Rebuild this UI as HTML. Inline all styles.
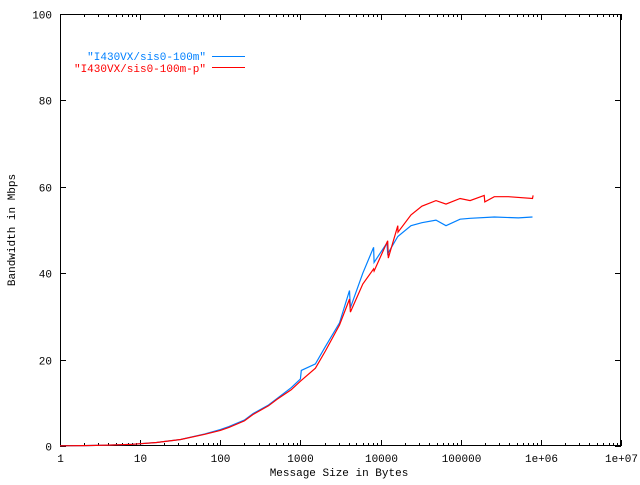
<!DOCTYPE html>
<html><head><meta charset="utf-8"><style>
body{margin:0;background:#fff}
svg text{font-family:"Liberation Mono",monospace;font-size:11px}
</style></head><body>
<svg id="c" width="640" height="480" xmlns="http://www.w3.org/2000/svg">
<rect width="640" height="480" fill="#fff"/>
<g id="axes"></g>
<g id="series"></g>
<text x="339" y="476" text-anchor="middle">Message Size in Bytes</text>
<text transform="translate(15,230) rotate(-90)" text-anchor="middle">Bandwidth in Mbps</text>
<g>
<text x="206" y="60" text-anchor="end" fill="#0080ff">"I430VX/sis0-100m"</text>
<line x1="212" y1="56.5" x2="245" y2="56.5" stroke="#0080ff"/>
<text x="206" y="72" text-anchor="end" fill="#ff0000">"I430VX/sis0-100m-p"</text>
<line x1="212" y1="67.5" x2="245" y2="67.5" stroke="#ff0000"/>
</g>
</svg>
<script>
const xTickLabels=["1","10","100","1000","10000","100000","1e+06","1e+07"];
const yTicks=[0,20,40,60,80,100];
const blueX=[1,2,4,8,16,32,64,100,128,200,256,400,512,768,1000,1024,1536,2048,3072,4096,4200,6000,8192,8300,12000,12288,16384,24000,32768,49152,65536,98304,131072,262144,524288,786432];
const blueY=[0.05,0.1,0.2,0.4,0.8,1.5,2.8,3.8,4.5,6,7.5,9.5,11,13.5,15.5,17.5,19,23,28.5,36,32,40,46,42.5,47,44.5,48.5,51,51.7,52.3,51,52.5,52.7,53,52.8,53];
const redX=[1,2,4,8,16,32,64,100,128,200,256,400,512,768,1000,1536,2048,3072,4096,4200,6000,8192,8300,12288,12500,16384,16500,24000,32768,49152,65536,98304,131072,196608,200000,262144,393216,786432,800000];
const redY=[0.05,0.1,0.2,0.4,0.8,1.5,2.7,3.6,4.3,5.8,7.3,9.3,10.8,13,15,18,22,28,34,31,37.5,41,40.5,47.5,43.5,51,49.5,53.5,55.5,56.8,56,57.3,56.8,58,56.5,57.7,57.7,57.3,58];
const L=60,R=621,T=14,B=446;
const xs=v=>L+(R-L)*Math.log10(v)/7;
const ys=v=>B-(B-T)*v/100;
const NS="http://www.w3.org/2000/svg";
const ax=document.getElementById('axes');
function mk(tag,attrs,parent){const e=document.createElementNS(NS,tag);for(const k in attrs)e.setAttribute(k,attrs[k]);parent.appendChild(e);return e;}
const box=mk('rect',{x:L+0.5,y:T+0.5,width:R-L-1,height:B-T-1,fill:'none',stroke:'#000'},ax);


yTicks.forEach(v=>{
 const y=Math.round(ys(v))+0.5;
 mk('line',{x1:L,x2:L+6,y1:y,y2:y,stroke:'#000'},ax);
 mk('line',{x1:R-6,x2:R,y1:y,y2:y,stroke:'#000'},ax);
 const t=mk('text',{x:52,y:y+4,'text-anchor':'end'},ax);t.textContent=v;
 
 
});
xTickLabels.forEach((lab,i)=>{
 const x=Math.round(xs(Math.pow(10,i)))+0.5;
 mk('line',{x1:x,x2:x,y1:B,y2:B-6,stroke:'#000'},ax);
 mk('line',{x1:x,x2:x,y1:T,y2:T+6,stroke:'#000'},ax);
 const t=mk('text',{x:x,y:462,'text-anchor':'middle'},ax);t.textContent=lab;
 
 
 if(i<7)for(let m=2;m<10;m++){const xm=Math.round(xs(m*Math.pow(10,i)))+0.5;
  mk('line',{x1:xm,x2:xm,y1:B,y2:B-3,stroke:'#000'},ax);
  mk('line',{x1:xm,x2:xm,y1:T,y2:T+3,stroke:'#000'},ax);}
});
const sg=document.getElementById('series');
function line(X,Y,col,name){
 const p=mk('polyline',{points:X.map((x,i)=>xs(x).toFixed(1)+','+ys(Y[i]).toFixed(1)).join(' '),fill:'none',stroke:col,'stroke-width':1.2},sg);
 
 
}
line(blueX,blueY,'#0080ff','series-sis0-100m');
line(redX,redY,'#ff0000','series-sis0-100m-p');
</script>
</body></html>
